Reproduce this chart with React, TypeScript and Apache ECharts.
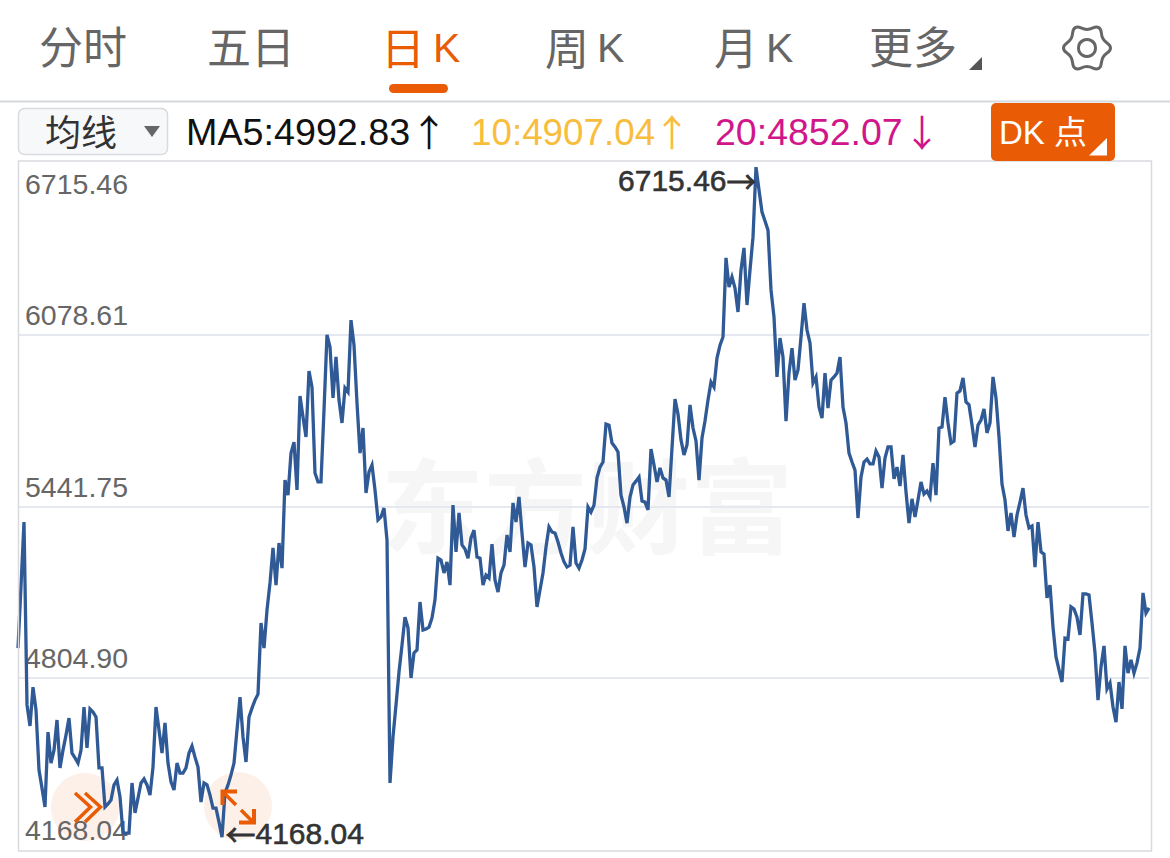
import React, { useEffect, useRef } from "react";
import * as echarts from "echarts";

const tickValues = [4168.04, 4804.9, 5441.75, 6078.61, 6715.46];
const closes = [
  4916, 5146, 5384, 4705, 4627, 4771, 4686, 4463, 4396, 4326, 4604, 4489, 4537, 4649, 4471, 4537, 4593, 4656, 4526, 4508,
  4489, 4537, 4697, 4545, 4690, 4679, 4660, 4471, 4471, 4326, 4337, 4352, 4408, 4426, 4363, 4229, 4229, 4229, 4415, 4304,
  4359, 4415, 4430, 4408, 4370, 4474, 4697, 4612, 4526, 4638, 4489, 4419, 4389, 4489, 4452, 4452, 4471, 4526, 4552, 4511,
  4474, 4344, 4415, 4408, 4370, 4322, 4322, 4270, 4214, 4378, 4408, 4445, 4489, 4612, 4734, 4586, 4493, 4660, 4693, 4723,
  4745, 5009, 4916, 5057, 5158, 5288, 5150, 5306, 5213, 5540, 5484, 5640, 5681, 5503, 5852, 5774, 5700, 5945, 5885, 5566,
  5533, 5533, 5800, 6079, 6034, 5845, 5997, 5837, 5752, 5882, 5867, 6134, 6041, 5826, 5640, 5733, 5492, 5570, 5596, 5503,
  5392, 5403, 5436, 5317, 4415, 4586, 4705, 4827, 4927, 5031, 4991, 4805, 4898, 4909, 5087, 4983, 4987, 4994, 5028, 5095,
  5250, 5243, 5195, 5236, 5150, 5447, 5273, 5418, 5299, 5284, 5250, 5325, 5354, 5254, 5250, 5150, 5187, 5176, 5302, 5169,
  5124, 5195, 5224, 5336, 5273, 5455, 5384, 5477, 5343, 5217, 5306, 5299, 5217, 5069, 5132, 5195, 5291, 5366, 5347, 5343,
  5310, 5269, 5236, 5217, 5224, 5366, 5232, 5213, 5243, 5284, 5440, 5421, 5447, 5548, 5588, 5607, 5748, 5744, 5677, 5663,
  5644, 5484, 5440, 5380, 5477, 5522, 5536, 5551, 5462, 5458, 5429, 5655, 5596, 5533, 5585, 5548, 5540, 5477, 5659, 5841,
  5785, 5689, 5633, 5670, 5819, 5733, 5685, 5540, 5696, 5759, 5837, 5904, 5885, 5993, 6041, 6071, 6365, 6257, 6294, 6253,
  6164, 6320, 6402, 6190, 6320, 6442, 6702, 6617, 6535, 6502, 6468, 6246, 6145, 5923, 6067, 5997, 5759, 5937, 6030, 5911,
  5949, 6071, 6197, 6097, 6049, 5900, 5923, 5811, 5770, 5937, 5807, 5911, 5923, 5937, 5997, 5811, 5752, 5640, 5607, 5577,
  5399, 5551, 5607, 5618, 5600, 5600, 5648, 5626, 5510, 5622, 5663, 5663, 5544, 5588, 5518, 5633, 5496, 5380, 5470, 5403,
  5466, 5533, 5488, 5499, 5477, 5603, 5484, 5733, 5737, 5848, 5752, 5677, 5685, 5863, 5871, 5919, 5830, 5819, 5744, 5663,
  5744, 5763, 5804, 5715, 5752, 5923, 5845, 5700, 5525, 5466, 5351, 5418, 5328, 5410, 5458, 5510, 5410, 5362, 5369, 5217,
  5384, 5273, 5265, 5102, 5150, 4994, 4883, 4835, 4790, 4953, 4950, 5069, 5061, 5031, 4965, 5117, 5117, 5113, 5009, 4898,
  4723, 4846, 4924, 4764, 4786, 4697, 4641, 4790, 4690, 4924, 4823, 4872, 4823, 4861, 4916, 5121, 5046, 5065,
];
const days = closes.map((_, i) => String(i + 1));
const plainTabs = ["分时", "五日", "更多"];
const kTabs = ["日", "周", "月"];
const maTexts = ["MA5:4992.83", "10:4907.04", "20:4852.07"];

const ORANGE = "#e95b04";
const GREY = "#666666";
const LATIN = '"Liberation Sans", "Noto Sans CJK SC", sans-serif';
const CJK = '"Noto Sans CJK SC"';

function txt(x: number, y: number, text: string, fontSize: number, fill: string, extra: any = {}) {
  return {
    type: "text", x, y, z: 20,
    style: { text, fontSize, fill, fontFamily: LATIN, textVerticalAlign: "middle", verticalAlign: "middle", ...extra },
  };
}

function kTab(x: number, label: string, fill: string) {
  return txt(x, 45.5, `{c|${label}}{k|K}`, 44, fill, {
    rich: {
      c: { fontSize: 44, fontFamily: CJK, fill },
      k: { fontSize: 41, fontFamily: '"Liberation Sans"', fill, padding: [5, 0, 0, 8] },
    },
  });
}

function gearPoints() {
  const pts: number[][] = [];
  for (let i = 0; i < 12; i++) {
    const a = (i * Math.PI) / 6;
    const r = i % 2 === 0 ? 23.5 : 18.5;
    pts.push([1087 + r * Math.cos(a), 48 + r * Math.sin(a)]);
  }
  return pts;
}

function markRich() {
  return {
    n: { color: "#333", fontSize: 30, fontFamily: '"Liberation Sans"', textBorderColor: "#333", textBorderWidth: 0.6 },
    a: { color: "#333", fontSize: 30, fontFamily: CJK, textBorderColor: "#333", textBorderWidth: 0.8 },
  };
}

export default function App() {
  const ref = useRef<HTMLDivElement>(null);
  useEffect(() => {
    const chart = echarts.init(ref.current!, undefined, { renderer: "svg" });
    const plainX = [39, 207, 869];
    const kX = [381, 545, 714];
    const arrow = { fontFamily: CJK, textAlign: "center" };
    const graphic: any[] = [
      // watermark and button discs, under the line
      { type: "text", x: 587, y: 501, z: 0, style: { text: "东方财富", fontSize: 103, fontWeight: 700, fill: "#f6f6f7", fontFamily: CJK, textAlign: "center", textVerticalAlign: "middle", verticalAlign: "middle" } },
      { type: "circle", z: 0, shape: { cx: 85, cy: 807, r: 34 }, style: { fill: "#fdf0e8" } },
      { type: "circle", z: 0, shape: { cx: 238, cy: 806, r: 34 }, style: { fill: "#fdf0e8" } },
      { type: "rect", z: 5, shape: { x: 18.5, y: 161, width: 1133, height: 690 }, style: { fill: "none", stroke: "#d8dade", lineWidth: 1.5 } },
      // header
      ...plainTabs.map((t, i) => txt(plainX[i], 48, t, 44, GREY)),
      ...kTabs.map((t, i) => kTab(kX[i], t, i === 0 ? ORANGE : GREY)),
      { type: "rect", z: 20, shape: { x: 389, y: 84, width: 59, height: 9, r: 4.5 }, style: { fill: ORANGE } },
      { type: "polygon", z: 20, shape: { points: [[982, 57], [982, 70], [969, 70]] }, style: { fill: "#555" } },
      { type: "polygon", z: 20, shape: { points: gearPoints(), smooth: 0.5 }, style: { fill: "none", stroke: GREY, lineWidth: 3 } },
      { type: "circle", z: 20, shape: { cx: 1087, cy: 48, r: 8.5 }, style: { fill: "none", stroke: GREY, lineWidth: 3 } },
      { type: "rect", z: 20, shape: { x: 0, y: 100.5, width: 1170, height: 2 }, style: { fill: "#d5d8dc" } },
      // ma strip
      { type: "rect", z: 20, shape: { x: 18.5, y: 108.5, width: 149, height: 46, r: 6 }, style: { fill: "#f7f8fa", stroke: "#d8dade", lineWidth: 1.5 } },
      txt(45, 133, "均线", 36, "#333"),
      { type: "polygon", z: 20, shape: { points: [[144, 126], [160, 126], [152, 137]] }, style: { fill: GREY } },
      txt(186, 132, maTexts[0], 37.7, "#111"),
      txt(429, 131, "↑", 37, "#111", arrow),
      txt(471, 132, maTexts[1], 36.8, "#f9bd3e"),
      txt(672, 131, "↑", 37, "#f9bd3e", arrow),
      txt(715, 132, maTexts[2], 37.5, "#d0168a"),
      txt(922, 131, "↓", 37, "#d0168a", arrow),
      { type: "rect", z: 20, shape: { x: 991, y: 103, width: 124, height: 58, r: 5 }, style: { fill: ORANGE } },
      txt(999, 132, "DK 点", 33, "#fff"),
      { type: "polygon", z: 21, shape: { points: [[1107, 138], [1107, 155.5], [1089, 155.5]] }, style: { fill: "#fff" } },
      // button icons
      { type: "polyline", z: 10, shape: { points: [[75, 793], [90.5, 807], [75, 822]] }, style: { fill: "none", stroke: ORANGE, lineWidth: 3.5 } },
      { type: "polyline", z: 10, shape: { points: [[85, 793], [100.5, 807], [85, 822]] }, style: { fill: "none", stroke: ORANGE, lineWidth: 3.5 } },
      { type: "polyline", z: 10, shape: { points: [[222.5, 805], [222.5, 791.5], [237, 791.5]] }, style: { fill: "none", stroke: ORANGE, lineWidth: 4 } },
      { type: "line", z: 10, shape: { x1: 223, y1: 792, x2: 236, y2: 805 }, style: { stroke: ORANGE, lineWidth: 3.5 } },
      { type: "polyline", z: 10, shape: { points: [[254, 809], [254, 822.5], [239, 822.5]] }, style: { fill: "none", stroke: ORANGE, lineWidth: 4 } },
      { type: "line", z: 10, shape: { x1: 253, y1: 822, x2: 241, y2: 810 }, style: { stroke: ORANGE, lineWidth: 3.5 } },
    ];
    chart.setOption({
      animation: false,
      backgroundColor: "#ffffff",
      grid: { left: 18, top: 163.5, width: 1131, height: 686, containLabel: false },
      xAxis: { type: "category", data: days, boundaryGap: false, show: false },
      yAxis: {
        type: "value",
        min: tickValues[0],
        max: tickValues[4],
        axisLine: { show: false },
        axisTick: { show: false, customValues: tickValues },
        splitLine: { show: true, showMinLine: false, showMaxLine: false, lineStyle: { color: "#e6e8ef", width: 2 } },
        axisLabel: {
          inside: true,
          customValues: tickValues,
          margin: 7,
          color: GREY,
          fontSize: 28.5,
          fontFamily: LATIN,
          verticalAlign: "bottom",
          verticalAlignMaxLabel: "top",
          lineHeight: 40,
          formatter: (v: number) => v.toFixed(2),
        },
      },
      graphic,
      series: [
        {
          type: "line",
          data: closes,
          showSymbol: false,
          smooth: false,
          z: 3,
          lineStyle: { color: "#2f5a96", width: 3.3, join: "miter", miterLimit: 4 },
          markPoint: {
            symbol: "circle",
            symbolSize: 1,
            itemStyle: { color: "transparent" },
            silent: true,
            data: [
              { type: "max", label: { show: true, position: "left", distance: 0, offset: [1, 13], formatter: "{n|6715.46}{a|→}", rich: markRich() } },
              { type: "min", label: { show: true, position: "right", distance: 0, offset: [3, -4], formatter: "{a|←}{n|4168.04}", rich: markRich() } },
            ],
          },
        },
      ],
    });
    return () => chart.dispose();
  }, []);
  return <div ref={ref} style={{ position: "fixed", left: 0, top: 0, width: 1170, height: 858 }} />;
}
